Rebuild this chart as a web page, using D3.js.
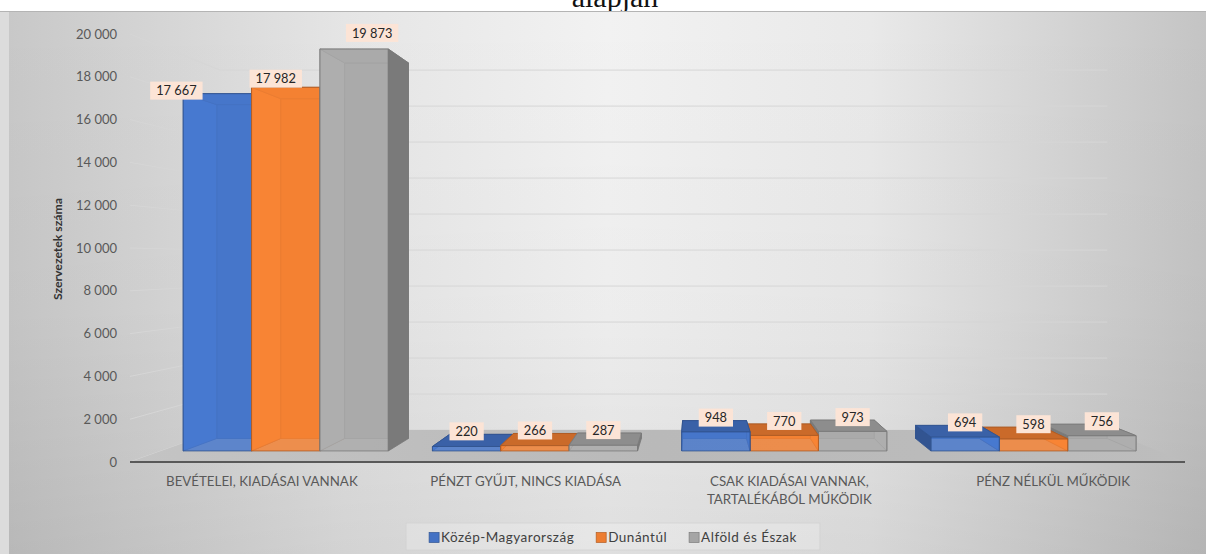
<!DOCTYPE html>
<html>
<head>
<meta charset="utf-8">
<script src="https://cdn.jsdelivr.net/npm/d3@7"></script>
<style>
  html, body { margin: 0; padding: 0; background: #fff; }
  svg { display: block; }
</style>
</head>
<body>
<svg id="chart" width="1206" height="554"></svg>
<script>
// ---- data ----
const categories = [
  ["BEVÉTELEI, KIADÁSAI VANNAK"],
  ["PÉNZT GYŰJT, NINCS KIADÁSA"],
  ["CSAK KIADÁSAI VANNAK,", "TARTALÉKÁBÓL MŰKÖDIK"],
  ["PÉNZ NÉLKÜL MŰKÖDIK"]
];
const seriesNames = ["Közép-Magyarország", "Dunántúl", "Alföld és Észak"];
const kozepMagyarorszag = [17667, 220, 948, 694];
const dunantul = [17982, 266, 770, 598];
const alfoldEsEszak = [19873, 287, 973, 756];
const yTicks = [0, 2000, 4000, 6000, 8000, 10000, 12000, 14000, 16000, 18000, 20000];
const yTitle = "Szervezetek száma";
const headingTail = "alapján";

const seriesValues = [kozepMagyarorszag, dunantul, alfoldEsEszak];
const seriesColors = ["#4472c4", "#ed7d31", "#a5a5a5"];

// hand-placed offsets for the crowded labels of the first category [series][dx, dy]
const firstGroupLabelShift = [[-41, -11], [-10, -17], [18, -27]];

// ---- layout ----
const W = 1206, H = 554;
const FONT = "Lato, 'Open Sans', sans-serif";
const svg = d3.select("#chart");
const defs = svg.append("defs");

svg.append("rect").attr("width", W).attr("height", H).attr("fill", "#fff");

// tail of the heading line above the chart image
svg.append("text")
  .attr("x", 615).attr("y", 7)
  .attr("text-anchor", "middle")
  .attr("font-family", "'Liberation Serif', 'Times New Roman', serif")
  .attr("font-size", 30)
  .attr("fill", "#111")
  .text(headingTail);

// chart area background
const bgH = defs.append("linearGradient").attr("id", "bgH")
  .attr("x1", 0).attr("x2", 1).attr("y1", 0).attr("y2", 0);
[[0, "#c8c8c8"], [0.28, "#e5e5e5"], [0.5, "#f2f2f2"], [0.72, "#e9e9e9"], [1, "#c4c4c4"]]
  .forEach(([o, c]) => bgH.append("stop").attr("offset", o).attr("stop-color", c));
const bgV = defs.append("linearGradient").attr("id", "bgV")
  .attr("x1", 0).attr("x2", 0).attr("y1", 0).attr("y2", 1);
[[0, 0], [0.55, 0.02], [1, 0.08]]
  .forEach(([o, a]) => bgV.append("stop").attr("offset", o).attr("stop-color", "#000").attr("stop-opacity", a));

svg.append("rect").attr("x", 0).attr("y", 11).attr("width", 9).attr("height", H - 11).attr("fill", "#dcdcdc");
svg.append("rect").attr("x", 9).attr("y", 11).attr("width", W - 9).attr("height", H - 11).attr("fill", "url(#bgH)");
svg.append("rect").attr("x", 9).attr("y", 11).attr("width", W - 9).attr("height", H - 11).attr("fill", "url(#bgV)");
svg.append("line").attr("x1", 0).attr("x2", W).attr("y1", 11.5).attr("y2", 11.5)
  .attr("stroke", "#b4b4b4").attr("stroke-width", 1);

// ---- scales (front plane of the 3-D box) ----
const plot = { left: 130, right: 1185, base: 462, top: 34 };
const x0 = d3.scaleBand().domain(d3.range(categories.length))
  .range([plot.left, plot.right]).paddingInner(0.177).paddingOuter(0.0885);
const x1 = d3.scaleBand().domain(d3.range(seriesNames.length)).range([0, x0.bandwidth()]);
const y = d3.scaleLinear().domain([0, 20000]).range([plot.base, plot.top]);

// perspective: depth z runs 0 (front) .. 1 (back wall)
const VP = { x: 696, y: 261 };
const depthK = 0.189;
function proj(fx, fy, z) {
  const s = 1 / (1 + depthK * z);
  return [VP.x + (fx - VP.x) * s, VP.y + (fy - VP.y) * s];
}
const barZ = [0.308, 0.70];

const line = d3.line();
function poly(g, pts, fill, stroke, extra) {
  const p = g.append("path").attr("d", line(pts) + "Z").attr("fill", fill);
  if (stroke) p.attr("stroke", stroke).attr("stroke-width", 0.8).attr("stroke-linejoin", "round");
  if (extra) extra(p);
  return p;
}

// ---- walls: gridlines on the side wall and back wall ----
const grid = svg.append("g");
yTicks.forEach(v => {
  const a = proj(plot.left, y(v), 0), b = proj(plot.left, y(v), 1), c = proj(plot.right, y(v), 1);
  grid.append("path").attr("d", line([a, b, c]))
    .attr("fill", "none").attr("stroke", "#d6d6d6").attr("stroke-width", 1);
});

// floor
const floorPts = [proj(plot.left, y(0), 0), proj(plot.right, y(0), 0), proj(plot.right, y(0), 1), proj(plot.left, y(0), 1)];
const fg = defs.append("linearGradient").attr("id", "floorG").attr("x1", 0).attr("x2", 1).attr("y1", 0).attr("y2", 0);
[[0, "#c4c4c4"], [0.5, "#b9b9b9"], [1, "#bdbdbd"]].forEach(([o, c]) => fg.append("stop").attr("offset", o).attr("stop-color", c));
poly(svg, floorPts, "url(#floorG)");
svg.append("line")
  .attr("x1", plot.left).attr("x2", plot.right).attr("y1", plot.base).attr("y2", plot.base)
  .attr("stroke", "#595959").attr("stroke-width", 2.2);

// ---- y axis labels and title ----
svg.append("g").selectAll("text").data(yTicks).join("text")
  .attr("x", 117).attr("y", d => y(d)).attr("dy", "0.35em")
  .attr("text-anchor", "end")
  .attr("font-family", FONT).attr("font-size", 13).attr("fill", "#595959")
  .text(d => d3.format(",")(d).replace(/,/g, " "));

svg.append("text")
  .attr("transform", "translate(58,249) rotate(-90)")
  .attr("text-anchor", "middle").attr("dy", "0.35em")
  .attr("font-family", FONT).attr("font-size", 12).attr("font-weight", 700).attr("fill", "#333")
  .attr("textLength", 102).attr("lengthAdjust", "spacingAndGlyphs")
  .text(yTitle);

// ---- category labels ----
const catG = svg.append("g");
categories.forEach((lines, ci) => {
  const cx = x0(ci) + x0.bandwidth() / 2;
  const t = catG.append("text")
    .attr("text-anchor", "middle")
    .attr("font-family", FONT).attr("font-size", 13.3).attr("fill", "#595959");
  lines.forEach((ln, li) => t.append("tspan").attr("x", cx).attr("y", 486 + li * 18).text(ln));
});

// ---- bars ----
const bars = [];
categories.forEach((_, ci) => {
  seriesValues.forEach((vals, si) => {
    const fx0 = x0(ci) + x1(si), fx1 = fx0 + x1.bandwidth();
    bars.push({ ci, si, v: vals[ci], fx0, fx1 });
  });
});
bars.sort((a, b) => Math.abs((b.fx0 + b.fx1) / 2 - VP.x) - Math.abs((a.fx0 + a.fx1) / 2 - VP.x));

const barG = svg.append("g");
bars.forEach(b => {
  const base = d3.color(seriesColors[b.si]);
  const cFront = base.brighter(0.12).formatHex();
  const cBack = base.darker(0.1).formatHex();
  const cSideVis = base.darker(0.85).formatHex();
  const cSideHid = base.brighter(0.3).formatHex();
  const cTop = base.darker(0.45).formatHex();
  const cEdge = base.darker(0.9).formatHex();
  const yb = y(0), yt = y(b.v);
  const F = (fx, fy) => proj(fx, fy, barZ[0]);
  const B = (fx, fy) => proj(fx, fy, barZ[1]);
  const g = barG.append("g");
  const front = [F(b.fx0, yt), F(b.fx1, yt), F(b.fx1, yb), F(b.fx0, yb)];
  const back = [B(b.fx0, yt), B(b.fx1, yt), B(b.fx1, yb), B(b.fx0, yb)];
  const left = [F(b.fx0, yt), B(b.fx0, yt), B(b.fx0, yb), F(b.fx0, yb)];
  const right = [F(b.fx1, yt), B(b.fx1, yt), B(b.fx1, yb), F(b.fx1, yb)];
  const top = [F(b.fx0, yt), F(b.fx1, yt), B(b.fx1, yt), B(b.fx0, yt)];
  const rightVisible = b.fx1 < VP.x;
  const leftVisible = b.fx0 > VP.x;
  const topVisible = yt > VP.y;

  poly(g, back, cBack, cEdge);
  if (!rightVisible) poly(g, right, leftVisible ? cSideHid : cBack, cEdge);
  if (!leftVisible) poly(g, left, rightVisible ? cSideHid : cBack, cEdge);
  if (!topVisible) poly(g, top, cBack, cEdge);
  poly(g, front, cFront, cEdge, p => p.attr("fill-opacity", 0.82));
  if (rightVisible) poly(g, right, cSideVis, cEdge);
  if (leftVisible) poly(g, left, cSideVis, cEdge);
  if (topVisible) poly(g, top, cTop, cEdge);
  b.labelX = (front[0][0] + front[1][0]) / 2;
  b.labelY = back[0][1] - 3;
});

// ---- data labels ----
const labG = svg.append("g");
bars.forEach(b => {
  let lx = b.labelX, ly = b.labelY;
  if (b.ci === 0) { lx += firstGroupLabelShift[b.si][0]; ly += firstGroupLabelShift[b.si][1]; }
  const g = labG.append("g");
  const r = g.append("rect").attr("fill", "#fce4d6");
  const t = g.append("text")
    .attr("x", lx).attr("y", ly).attr("dy", "0.36em")
    .attr("text-anchor", "middle")
    .attr("font-family", FONT).attr("font-size", 12.8).attr("fill", "#262626")
    .text(d3.format(",")(b.v).replace(/,/g, " "));
  const w = t.node().getComputedTextLength() + 12;
  r.attr("x", lx - w / 2).attr("y", ly - 9).attr("width", w).attr("height", 18);
});

// ---- legend ----
const legG = svg.append("g");
const legBox = legG.append("rect")
  .attr("fill", "#ffffff").attr("fill-opacity", 0.22)
  .attr("stroke", "#d2d2d2").attr("stroke-width", 0.8);
let lxPos = 0;
const items = [];
seriesNames.forEach((name, si) => {
  const ig = legG.append("g");
  ig.append("rect").attr("x", 0).attr("y", -5).attr("width", 10).attr("height", 10)
    .attr("fill", seriesColors[si]).attr("stroke", d3.color(seriesColors[si]).darker(0.8)).attr("stroke-width", 0.7);
  const t = ig.append("text").attr("x", 12).attr("y", 0).attr("dy", "0.35em")
    .attr("font-family", FONT).attr("font-size", 13.5).attr("letter-spacing", 0.5)
    .attr("fill", "#404040").text(name);
  const w = 12 + t.node().getComputedTextLength();
  items.push({ ig, x: lxPos });
  lxPos += w + 22;
});
const legW = lxPos - 22;
const legX = 613 - legW / 2;
items.forEach(it => it.ig.attr("transform", `translate(${legX + it.x},537.5)`));
legBox.attr("x", legX - 23).attr("y", 523).attr("width", legW + 46).attr("height", 27);
</script>
</body>
</html>
